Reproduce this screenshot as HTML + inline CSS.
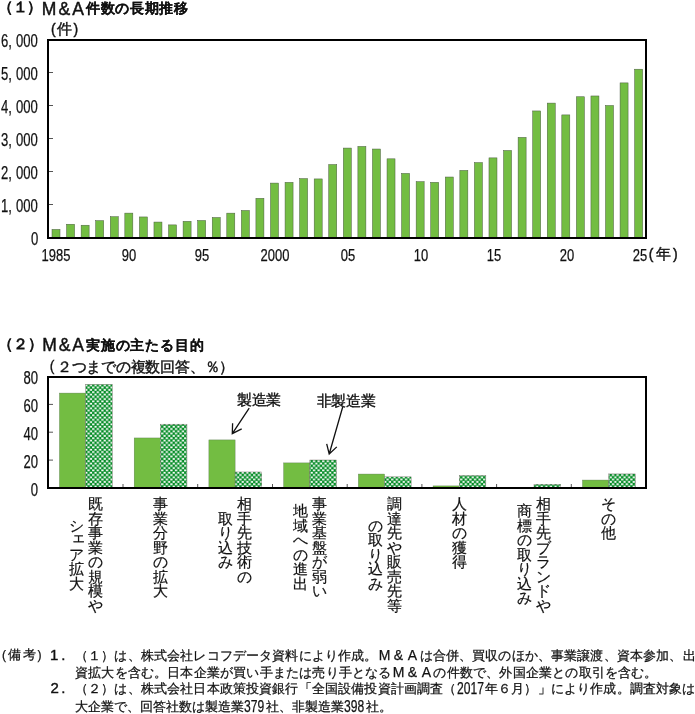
<!DOCTYPE html>
<html lang="ja"><head><meta charset="utf-8"><style>
html,body{margin:0;padding:0;background:#fff;}
body{width:695px;height:714px;position:relative;overflow:hidden;will-change:transform;font-family:"Liberation Sans",sans-serif;color:#111;}
svg{position:absolute;left:0;top:0;}
.t{position:absolute;white-space:nowrap;line-height:20px;transform-origin:0 0;-webkit-text-stroke:0.25px #111;}
.t.c{width:80px;text-align:center;transform-origin:40px 0;}
.t.r{width:80px;text-align:right;transform-origin:80px 0;}
.lp{font-size:0.93em;}.fw{display:inline-block;width:14px;text-align:center;letter-spacing:0;font-size:14px;}
.cd{display:inline-block;letter-spacing:0;height:1em;position:relative;}.cdi{position:absolute;left:0;bottom:-3.6px;line-height:1;font-size:16px;transform:scaleX(0.755);transform-origin:0 50%;}
.vc{position:absolute;width:20px;text-align:center;font-size:15px;line-height:18px;-webkit-text-stroke:0.2px #111;}
</style></head><body>
<svg width="695" height="714" viewBox="0 0 695 714"><defs><pattern id="chk" width="4.6" height="4.6" patternUnits="userSpaceOnUse"><rect width="4.6" height="4.6" fill="#008a22"/><rect x="0.1" y="0.3" width="2.3" height="1.8" fill="#fff"/><rect x="2.4" y="2.6" width="2.3" height="1.8" fill="#fff"/><rect x="-2.2" y="2.6" width="2.3" height="1.8" fill="#fff"/></pattern></defs><rect x="52.00" y="229.42" width="8.0" height="8.58" fill="#73bd42" stroke="#4a5a40" stroke-width="0.5"/><rect x="66.57" y="224.24" width="8.0" height="13.76" fill="#73bd42" stroke="#4a5a40" stroke-width="0.5"/><rect x="81.13" y="225.23" width="8.0" height="12.77" fill="#73bd42" stroke="#4a5a40" stroke-width="0.5"/><rect x="95.70" y="220.64" width="8.0" height="17.36" fill="#73bd42" stroke="#4a5a40" stroke-width="0.5"/><rect x="110.26" y="216.72" width="8.0" height="21.29" fill="#73bd42" stroke="#4a5a40" stroke-width="0.5"/><rect x="124.83" y="213.12" width="8.0" height="24.88" fill="#73bd42" stroke="#4a5a40" stroke-width="0.5"/><rect x="139.40" y="216.95" width="8.0" height="21.05" fill="#73bd42" stroke="#4a5a40" stroke-width="0.5"/><rect x="153.96" y="222.06" width="8.0" height="15.94" fill="#73bd42" stroke="#4a5a40" stroke-width="0.5"/><rect x="168.53" y="224.90" width="8.0" height="13.10" fill="#73bd42" stroke="#4a5a40" stroke-width="0.5"/><rect x="183.09" y="221.34" width="8.0" height="16.66" fill="#73bd42" stroke="#4a5a40" stroke-width="0.5"/><rect x="197.66" y="220.48" width="8.0" height="17.52" fill="#73bd42" stroke="#4a5a40" stroke-width="0.5"/><rect x="212.23" y="217.51" width="8.0" height="20.49" fill="#73bd42" stroke="#4a5a40" stroke-width="0.5"/><rect x="226.79" y="213.15" width="8.0" height="24.85" fill="#73bd42" stroke="#4a5a40" stroke-width="0.5"/><rect x="241.36" y="210.48" width="8.0" height="27.52" fill="#73bd42" stroke="#4a5a40" stroke-width="0.5"/><rect x="255.92" y="198.33" width="8.0" height="39.67" fill="#73bd42" stroke="#4a5a40" stroke-width="0.5"/><rect x="270.49" y="183.09" width="8.0" height="54.91" fill="#73bd42" stroke="#4a5a40" stroke-width="0.5"/><rect x="285.06" y="182.36" width="8.0" height="55.64" fill="#73bd42" stroke="#4a5a40" stroke-width="0.5"/><rect x="299.62" y="178.60" width="8.0" height="59.40" fill="#73bd42" stroke="#4a5a40" stroke-width="0.5"/><rect x="314.19" y="178.93" width="8.0" height="59.07" fill="#73bd42" stroke="#4a5a40" stroke-width="0.5"/><rect x="328.75" y="164.54" width="8.0" height="73.46" fill="#73bd42" stroke="#4a5a40" stroke-width="0.5"/><rect x="343.32" y="148.07" width="8.0" height="89.92" fill="#73bd42" stroke="#4a5a40" stroke-width="0.5"/><rect x="357.89" y="146.43" width="8.0" height="91.58" fill="#73bd42" stroke="#4a5a40" stroke-width="0.5"/><rect x="372.45" y="149.03" width="8.0" height="88.97" fill="#73bd42" stroke="#4a5a40" stroke-width="0.5"/><rect x="387.02" y="158.83" width="8.0" height="79.17" fill="#73bd42" stroke="#4a5a40" stroke-width="0.5"/><rect x="401.58" y="173.42" width="8.0" height="64.58" fill="#73bd42" stroke="#4a5a40" stroke-width="0.5"/><rect x="416.15" y="181.67" width="8.0" height="56.33" fill="#73bd42" stroke="#4a5a40" stroke-width="0.5"/><rect x="430.72" y="182.33" width="8.0" height="55.67" fill="#73bd42" stroke="#4a5a40" stroke-width="0.5"/><rect x="445.28" y="177.02" width="8.0" height="60.98" fill="#73bd42" stroke="#4a5a40" stroke-width="0.5"/><rect x="459.85" y="170.42" width="8.0" height="67.58" fill="#73bd42" stroke="#4a5a40" stroke-width="0.5"/><rect x="474.41" y="162.59" width="8.0" height="75.41" fill="#73bd42" stroke="#4a5a40" stroke-width="0.5"/><rect x="488.98" y="157.88" width="8.0" height="80.12" fill="#73bd42" stroke="#4a5a40" stroke-width="0.5"/><rect x="503.55" y="150.48" width="8.0" height="87.52" fill="#73bd42" stroke="#4a5a40" stroke-width="0.5"/><rect x="518.11" y="137.35" width="8.0" height="100.65" fill="#73bd42" stroke="#4a5a40" stroke-width="0.5"/><rect x="532.68" y="110.95" width="8.0" height="127.05" fill="#73bd42" stroke="#4a5a40" stroke-width="0.5"/><rect x="547.24" y="103.10" width="8.0" height="134.90" fill="#73bd42" stroke="#4a5a40" stroke-width="0.5"/><rect x="561.81" y="114.91" width="8.0" height="123.09" fill="#73bd42" stroke="#4a5a40" stroke-width="0.5"/><rect x="576.38" y="96.76" width="8.0" height="141.24" fill="#73bd42" stroke="#4a5a40" stroke-width="0.5"/><rect x="590.94" y="95.97" width="8.0" height="142.03" fill="#73bd42" stroke="#4a5a40" stroke-width="0.5"/><rect x="605.51" y="105.50" width="8.0" height="132.50" fill="#73bd42" stroke="#4a5a40" stroke-width="0.5"/><rect x="620.07" y="82.90" width="8.0" height="155.10" fill="#73bd42" stroke="#4a5a40" stroke-width="0.5"/><rect x="634.64" y="69.21" width="8.0" height="168.79" fill="#73bd42" stroke="#4a5a40" stroke-width="0.5"/><line x1="49" x2="53" y1="204.5" y2="204.5" stroke="#555" stroke-width="1"/><line x1="49" x2="53" y1="171.5" y2="171.5" stroke="#555" stroke-width="1"/><line x1="49" x2="53" y1="138.5" y2="138.5" stroke="#555" stroke-width="1"/><line x1="49" x2="53" y1="105.5" y2="105.5" stroke="#555" stroke-width="1"/><line x1="49" x2="53" y1="72.5" y2="72.5" stroke="#555" stroke-width="1"/><path d="M48,40 H646 V238 H48 Z" fill="none" stroke="#000" stroke-width="2"/><rect x="59.46" y="393.09" width="26.2" height="94.91" fill="#73bd42" stroke="#5a7a50" stroke-width="0.4"/><rect x="85.66" y="384.31" width="26.6" height="103.70" fill="url(#chk)" stroke="#7a6a6a" stroke-width="0.4"/><rect x="134.18" y="437.96" width="26.2" height="50.04" fill="#73bd42" stroke="#5a7a50" stroke-width="0.4"/><rect x="160.38" y="424.17" width="26.6" height="63.83" fill="url(#chk)" stroke="#7a6a6a" stroke-width="0.4"/><rect x="208.90" y="439.92" width="26.2" height="48.08" fill="#73bd42" stroke="#5a7a50" stroke-width="0.4"/><rect x="235.10" y="471.97" width="26.6" height="16.03" fill="url(#chk)" stroke="#7a6a6a" stroke-width="0.4"/><rect x="283.62" y="462.91" width="26.2" height="25.09" fill="#73bd42" stroke="#5a7a50" stroke-width="0.4"/><rect x="309.82" y="459.99" width="26.6" height="28.01" fill="url(#chk)" stroke="#7a6a6a" stroke-width="0.4"/><rect x="358.34" y="474.06" width="26.2" height="13.94" fill="#73bd42" stroke="#5a7a50" stroke-width="0.4"/><rect x="384.54" y="476.85" width="26.6" height="11.15" fill="url(#chk)" stroke="#7a6a6a" stroke-width="0.4"/><rect x="433.06" y="485.91" width="26.2" height="2.09" fill="#73bd42" stroke="#5a7a50" stroke-width="0.4"/><rect x="459.26" y="475.46" width="26.6" height="12.54" fill="url(#chk)" stroke="#7a6a6a" stroke-width="0.4"/><rect x="533.98" y="484.24" width="26.6" height="3.76" fill="url(#chk)" stroke="#7a6a6a" stroke-width="0.4"/><rect x="582.50" y="480.06" width="26.2" height="7.94" fill="#73bd42" stroke="#5a7a50" stroke-width="0.4"/><rect x="608.70" y="473.92" width="26.6" height="14.08" fill="url(#chk)" stroke="#7a6a6a" stroke-width="0.4"/><line x1="49" x2="53" y1="460.1" y2="460.1" stroke="#555" stroke-width="1"/><line x1="49" x2="53" y1="432.2" y2="432.2" stroke="#555" stroke-width="1"/><line x1="49" x2="53" y1="404.4" y2="404.4" stroke="#555" stroke-width="1"/><line x1="123.0" x2="123.0" y1="487" y2="484" stroke="#555" stroke-width="1"/><line x1="197.7" x2="197.7" y1="487" y2="484" stroke="#555" stroke-width="1"/><line x1="272.5" x2="272.5" y1="487" y2="484" stroke="#555" stroke-width="1"/><line x1="347.2" x2="347.2" y1="487" y2="484" stroke="#555" stroke-width="1"/><line x1="421.9" x2="421.9" y1="487" y2="484" stroke="#555" stroke-width="1"/><line x1="496.6" x2="496.6" y1="487" y2="484" stroke="#555" stroke-width="1"/><line x1="571.3" x2="571.3" y1="487" y2="484" stroke="#555" stroke-width="1"/><path d="M48,377 H646 V488 H48 Z" fill="none" stroke="#000" stroke-width="2"/><path d="M249.2,408.2 L232.3,433.6 M232.6,423.3 L232.3,433.6 L241.7,428.8" fill="none" stroke="#111" stroke-width="1.3"/><path d="M342.7,407 L329.2,454 M326.7,443.9 L329.2,454 L336.8,446.9" fill="none" stroke="#111" stroke-width="1.3"/></svg>
<div class="t" style="left:-2.1px;top:-2.8px;font-size:15.0px;letter-spacing:-0.3px;-webkit-text-stroke:0.8px #111">（１）</div><div class="t" style="left:41.7px;top:-1.45px;font-size:17.5px;letter-spacing:2.15px;-webkit-text-stroke:0.45px #111">M&amp;A</div><div class="t" style="left:86.0px;top:-2.2px;font-size:14.0px;letter-spacing:0.65px;font-weight:bold;-webkit-text-stroke:0.15px #111">件数の長期推移</div><div class="t" style="left:51.1px;top:18.75px;font-size:15.0px;letter-spacing:1.35px;-webkit-text-stroke:0.4px #111"><span class="lp">(</span>件<span class="lp">)</span></div><div class="t" style="left:-2.1px;top:333.8px;font-size:15.0px;letter-spacing:0.15px;-webkit-text-stroke:0.8px #111">（２）</div><div class="t" style="left:42.2px;top:335.3px;font-size:17.5px;letter-spacing:1.9px;-webkit-text-stroke:0.45px #111">M&amp;A</div><div class="t" style="left:86.0px;top:334.8px;font-size:14.0px;letter-spacing:0.815px;font-weight:bold;-webkit-text-stroke:0.15px #111">実施の主たる目的</div><div class="t" style="left:49.8px;top:356.4px;font-size:15.0px;letter-spacing:0.0px;-webkit-text-stroke:0.3px #111"><span class="lp">(</span></div><div class="t" style="left:56.8px;top:356.8px;font-size:15.0px;letter-spacing:-0.219px;-webkit-text-stroke:0.4px #111">２つまでの複数回答、％）</div><div class="t" style="left:237.1px;top:389.85px;font-size:15.0px;letter-spacing:-0.3px;-webkit-text-stroke:0.35px #111">製造業</div><div class="t" style="left:316.5px;top:390.65px;font-size:15.0px;letter-spacing:-0.267px;-webkit-text-stroke:0.35px #111">非製造業</div><div class="t" style="left:648.7px;top:244.4px;font-size:15.0px;letter-spacing:2.3px;-webkit-text-stroke:0.4px #111"><span class="lp">(</span>年<span class="lp">)</span></div><div class="t" style="left:2.0px;top:645.3px;font-size:13.0px;letter-spacing:1.833px;-webkit-text-stroke:0.25px #111"><span class="lp">(</span>備考<span class="lp">)</span></div><div class="t" style="left:50.0px;top:644.95px;font-size:15.0px;letter-spacing:2.8px;-webkit-text-stroke:0.4px #111">1.</div><div class="t" style="left:75.0px;top:645.3px;font-size:13.0px;letter-spacing:0.152px;-webkit-text-stroke:0.25px #111">（１）は、株式会社レコフデータ資料により作成。<span class="fw">M</span><span class="fw">&amp;</span><span class="fw">A</span>は合併、買収のほか、事業譲渡、資本参加、出</div><div class="t" style="left:75.0px;top:661.95px;font-size:13.0px;letter-spacing:0.186px;-webkit-text-stroke:0.25px #111">資拡大を含む。日本企業が買い手または売り手となる<span class="fw">M</span><span class="fw">&amp;</span><span class="fw">A</span>の件数で、外国企業との取引を含む。</div><div class="t" style="left:50.5px;top:678.25px;font-size:15.0px;letter-spacing:2.3px;-webkit-text-stroke:0.4px #111">2.</div><div class="t" style="left:75.0px;top:679.1px;font-size:13.0px;letter-spacing:0.155px;-webkit-text-stroke:0.25px #111">（２）は、株式会社日本政策投資銀行「全国設備投資計画調査（<span class="cd" style="width:28.5px"><span class="cdi">2017</span></span>年６月）」により作成。調査対象は</div><div class="t" style="left:75.0px;top:697.2px;font-size:13.0px;letter-spacing:0.0px;-webkit-text-stroke:0.25px #111">大企業で、回答社数は製造業<span class="cd" style="width:22px"><span class="cdi">379</span></span>社、非製造業<span class="cd" style="width:22px"><span class="cdi">398</span></span>社。</div><div class="t" style="left:31.10px;top:229.30px;font-size:18.42px;transform:scaleX(0.7111)">0</div><div class="t" style="left:15.80px;top:196.30px;font-size:18.42px;transform:scaleX(0.7111)">000</div><div class="t" style="left:1.2px;top:196.30px;font-size:18.42px;transform:scaleX(0.7111)">1,</div><div class="t" style="left:15.80px;top:163.30px;font-size:18.42px;transform:scaleX(0.7111)">000</div><div class="t" style="left:1.2px;top:163.30px;font-size:18.42px;transform:scaleX(0.7111)">2,</div><div class="t" style="left:15.80px;top:130.30px;font-size:18.42px;transform:scaleX(0.7111)">000</div><div class="t" style="left:1.2px;top:130.30px;font-size:18.42px;transform:scaleX(0.7111)">3,</div><div class="t" style="left:15.80px;top:97.30px;font-size:18.42px;transform:scaleX(0.7111)">000</div><div class="t" style="left:1.2px;top:97.30px;font-size:18.42px;transform:scaleX(0.7111)">4,</div><div class="t" style="left:15.80px;top:64.30px;font-size:18.42px;transform:scaleX(0.7111)">000</div><div class="t" style="left:1.2px;top:64.30px;font-size:18.42px;transform:scaleX(0.7111)">5,</div><div class="t" style="left:15.80px;top:31.30px;font-size:18.42px;transform:scaleX(0.7111)">000</div><div class="t" style="left:1.2px;top:31.30px;font-size:18.42px;transform:scaleX(0.7111)">6,</div><div class="t c" style="left:16.00px;top:245.95px;font-size:16.72px;transform:scaleX(0.7778)">1985</div><div class="t c" style="left:88.83px;top:245.95px;font-size:16.72px;transform:scaleX(0.7778)">90</div><div class="t c" style="left:161.66px;top:245.95px;font-size:16.72px;transform:scaleX(0.7778)">95</div><div class="t c" style="left:235.29px;top:245.95px;font-size:16.72px;transform:scaleX(0.7778)">2000</div><div class="t c" style="left:308.32px;top:245.95px;font-size:16.72px;transform:scaleX(0.7778)">05</div><div class="t c" style="left:381.15px;top:245.95px;font-size:16.72px;transform:scaleX(0.7778)">10</div><div class="t c" style="left:453.98px;top:245.95px;font-size:16.72px;transform:scaleX(0.7778)">15</div><div class="t c" style="left:526.81px;top:245.95px;font-size:16.72px;transform:scaleX(0.7778)">20</div><div class="t c" style="left:599.64px;top:245.95px;font-size:16.72px;transform:scaleX(0.7778)">25</div><div class="t r" style="left:-42.50px;top:479.75px;font-size:18.42px;letter-spacing:0px;transform:scaleX(0.7111)">0</div><div class="t r" style="left:-42.50px;top:451.79px;font-size:18.42px;letter-spacing:0px;transform:scaleX(0.7111)">20</div><div class="t r" style="left:-42.50px;top:423.83px;font-size:18.42px;letter-spacing:0px;transform:scaleX(0.7111)">40</div><div class="t r" style="left:-42.50px;top:395.87px;font-size:18.42px;letter-spacing:0px;transform:scaleX(0.7111)">60</div><div class="t r" style="left:-42.50px;top:367.91px;font-size:18.42px;letter-spacing:0px;transform:scaleX(0.7111)">80</div><div class="vc" style="left:85.2px;top:495.0px;">既</div><div class="vc" style="left:85.2px;top:509.5px;">存</div><div class="vc" style="left:85.2px;top:524.0px;">事</div><div class="vc" style="left:85.2px;top:538.5px;">業</div><div class="vc" style="left:85.2px;top:553.0px;">の</div><div class="vc" style="left:85.2px;top:567.5px;">規</div><div class="vc" style="left:85.2px;top:582.0px;">模</div><div class="vc" style="left:85.2px;top:596.5px;">や</div><div class="vc" style="left:66.2px;top:516.8px;">シ</div><div class="vc" style="left:66.2px;top:531.2px;transform:translate(2px,-3px);">ェ</div><div class="vc" style="left:66.2px;top:545.8px;">ア</div><div class="vc" style="left:66.2px;top:560.2px;">拡</div><div class="vc" style="left:66.2px;top:574.8px;">大</div><div class="vc" style="left:150.4px;top:495.0px;">事</div><div class="vc" style="left:150.4px;top:509.5px;">業</div><div class="vc" style="left:150.4px;top:524.0px;">分</div><div class="vc" style="left:150.4px;top:538.5px;">野</div><div class="vc" style="left:150.4px;top:553.0px;">の</div><div class="vc" style="left:150.4px;top:567.5px;">拡</div><div class="vc" style="left:150.4px;top:582.0px;">大</div><div class="vc" style="left:234.6px;top:495.0px;">相</div><div class="vc" style="left:234.6px;top:509.5px;">手</div><div class="vc" style="left:234.6px;top:524.0px;">先</div><div class="vc" style="left:234.6px;top:538.5px;">技</div><div class="vc" style="left:234.6px;top:553.0px;">術</div><div class="vc" style="left:234.6px;top:567.5px;">の</div><div class="vc" style="left:215.6px;top:509.5px;">取</div><div class="vc" style="left:215.6px;top:524.0px;">り</div><div class="vc" style="left:215.6px;top:538.5px;">込</div><div class="vc" style="left:215.6px;top:553.0px;">み</div><div class="vc" style="left:309.3px;top:495.0px;">事</div><div class="vc" style="left:309.3px;top:509.5px;">業</div><div class="vc" style="left:309.3px;top:524.0px;">基</div><div class="vc" style="left:309.3px;top:538.5px;">盤</div><div class="vc" style="left:309.3px;top:553.0px;">が</div><div class="vc" style="left:309.3px;top:567.5px;">弱</div><div class="vc" style="left:309.3px;top:582.0px;">い</div><div class="vc" style="left:290.3px;top:502.2px;">地</div><div class="vc" style="left:290.3px;top:516.8px;">域</div><div class="vc" style="left:290.3px;top:531.2px;">へ</div><div class="vc" style="left:290.3px;top:545.8px;">の</div><div class="vc" style="left:290.3px;top:560.2px;">進</div><div class="vc" style="left:290.3px;top:574.8px;">出</div><div class="vc" style="left:384.0px;top:495.0px;">調</div><div class="vc" style="left:384.0px;top:509.5px;">達</div><div class="vc" style="left:384.0px;top:524.0px;">先</div><div class="vc" style="left:384.0px;top:538.5px;">や</div><div class="vc" style="left:384.0px;top:553.0px;">販</div><div class="vc" style="left:384.0px;top:567.5px;">売</div><div class="vc" style="left:384.0px;top:582.0px;">先</div><div class="vc" style="left:384.0px;top:596.5px;">等</div><div class="vc" style="left:365.0px;top:516.8px;">の</div><div class="vc" style="left:365.0px;top:531.2px;">取</div><div class="vc" style="left:365.0px;top:545.8px;">り</div><div class="vc" style="left:365.0px;top:560.2px;">込</div><div class="vc" style="left:365.0px;top:574.8px;">み</div><div class="vc" style="left:449.3px;top:495.0px;">人</div><div class="vc" style="left:449.3px;top:509.5px;">材</div><div class="vc" style="left:449.3px;top:524.0px;">の</div><div class="vc" style="left:449.3px;top:538.5px;">獲</div><div class="vc" style="left:449.3px;top:553.0px;">得</div><div class="vc" style="left:533.5px;top:495.0px;">相</div><div class="vc" style="left:533.5px;top:509.5px;">手</div><div class="vc" style="left:533.5px;top:524.0px;">先</div><div class="vc" style="left:533.5px;top:538.5px;">ブ</div><div class="vc" style="left:533.5px;top:553.0px;">ラ</div><div class="vc" style="left:533.5px;top:567.5px;">ン</div><div class="vc" style="left:533.5px;top:582.0px;">ド</div><div class="vc" style="left:533.5px;top:596.5px;">や</div><div class="vc" style="left:514.5px;top:502.2px;">商</div><div class="vc" style="left:514.5px;top:516.8px;">標</div><div class="vc" style="left:514.5px;top:531.2px;">の</div><div class="vc" style="left:514.5px;top:545.8px;">取</div><div class="vc" style="left:514.5px;top:560.2px;">り</div><div class="vc" style="left:514.5px;top:574.8px;">込</div><div class="vc" style="left:514.5px;top:589.2px;">み</div><div class="vc" style="left:598.7px;top:495.0px;">そ</div><div class="vc" style="left:598.7px;top:509.5px;">の</div><div class="vc" style="left:598.7px;top:524.0px;">他</div>
</body></html>
